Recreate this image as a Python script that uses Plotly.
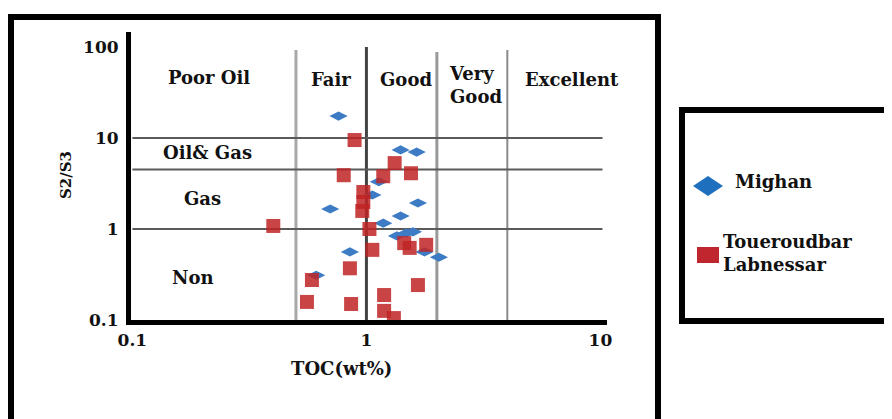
import plotly.graph_objects as go

# ---------------- data ----------------
series_names = ["Mighan", "Toueroudbar Labnessar"]

mighan_toc = [0.76, 1.40, 1.64, 1.13, 1.06, 1.66, 0.70, 1.40, 1.18, 1.35, 1.48, 1.58, 1.77, 2.04, 0.85, 0.61]
mighan_s2s3 = [17.4, 7.4, 7.0, 3.3, 2.36, 1.93, 1.66, 1.39, 1.16, 0.84, 0.90, 0.93, 0.56, 0.49, 0.56, 0.31]

toue_toc = [0.89, 1.32, 0.80, 1.18, 1.55, 0.97, 0.97, 0.96, 0.40, 1.03, 1.06, 1.45, 1.53, 1.80,
            0.85, 0.585, 0.557, 0.86, 1.19, 1.19, 1.31, 1.66]
toue_s2s3 = [9.5, 5.3, 3.9, 3.8, 4.1, 2.55, 1.98, 1.58, 1.08, 1.0, 0.59, 0.70, 0.62, 0.67,
             0.37, 0.275, 0.158, 0.150, 0.188, 0.126, 0.105, 0.242]

# reference (classification) lines
toc_limits = [0.5, 1, 2, 4]
toc_limit_tops = [93, 100, 88, 93]
s2s3_limits = [10, 4.5, 1]

x_ticks = [0.1, 1, 10]
x_ticklabels = ["0.1", "1", "10"]
y_ticks = [0.1, 1, 10, 100]
y_ticklabels = ["0.1", "1", "10", "100"]

region_labels = ["Poor Oil", "Fair", "Good", "Very<br>Good", "Excellent", "Oil& Gas", "Gas", "Non"]
# label anchors (log10 units of the axes)
region_lx = [-0.673, -0.152, 0.169, 0.468, 0.878, -0.677, -0.699, -0.741]
region_ly = [1.670, 1.648, 1.648, 1.582, 1.648, 0.846, 0.330, -0.538]

# ---------------- layout geometry ----------------
OFF = 8  # page body margin of the html page
W, H = 892 - OFF, 419 - OFF
L, R, T, B = 131, 607, 32, 320   # plot area in window pixels

def px(x):
    return (x - L) / (R - L)

def py(y):
    return (B - y) / (B - T)

FONT = "DejaVu Serif"
TXT = "#111111"
BLUE = "#3d7cc4"
RED = "rgba(192,36,36,0.85)"

fig = go.Figure()

# classification lines
line_styles = [("#a8a8a8", 3), ("#444444", 3), ("#999999", 3), ("#8a8a8a", 2)]
for xv, top, (col, w) in zip(toc_limits, toc_limit_tops, line_styles):
    fig.add_trace(go.Scatter(x=[xv, xv], y=[0.1, top], mode="lines",
                             line=dict(color=col, width=w), showlegend=False, hoverinfo="skip"))
for yv in s2s3_limits:
    fig.add_trace(go.Scatter(x=[0.1, 10.2], y=[yv, yv], mode="lines",
                             line=dict(color="#5a5a5a", width=2), showlegend=False, hoverinfo="skip"))

fig.add_trace(go.Scatter(x=mighan_toc, y=mighan_s2s3, mode="markers", name=series_names[0],
                         marker=dict(symbol="diamond-wide", size=13, color=BLUE), showlegend=False))
fig.add_trace(go.Scatter(x=toue_toc, y=toue_s2s3, mode="markers", name=series_names[1],
                         marker=dict(symbol="square", size=14, color=RED), showlegend=False))

annotations = []
for t, lx, ly in zip(region_labels, region_lx, region_ly):
    annotations.append(dict(x=lx, y=ly, xref="x", yref="y", text=t, showarrow=False,
                            xanchor="center", yanchor="middle",
                            font=dict(family=FONT, size=18, color=TXT, weight="bold"),
                            align="left"))

# axis titles
annotations.append(dict(x=px(341), y=py(368), xref="paper", yref="paper", text="TOC(wt%)",
                        xanchor="center", yanchor="middle",
                        showarrow=False, font=dict(family=FONT, size=18, color=TXT, weight="bold")))
annotations.append(dict(x=px(66), y=py(175), xref="paper", yref="paper", text="S2/S3", textangle=-90,
                        xanchor="center", yanchor="middle",
                        showarrow=False, font=dict(family=FONT, size=15, color=TXT, weight="bold")))

# manual legend text
leg_font = dict(family=FONT, size=18, color=TXT, weight="bold")
annotations.append(dict(x=px(733), y=py(182), xref="paper", yref="paper", text=series_names[0],
                        xanchor="left", yanchor="middle", showarrow=False, font=leg_font))
annotations.append(dict(x=px(721), y=py(253), xref="paper", yref="paper",
                        text="<br>".join(series_names[1].split(" ")), align="left",
                        xanchor="left", yanchor="middle", showarrow=False, font=leg_font))

shapes = []
# outer frame
shapes.append(dict(type="rect", xref="paper", yref="paper", x0=px(11), x1=px(658), y0=py(440), y1=py(17),
                   line=dict(color="black", width=6), layer="above"))
# legend box
shapes.append(dict(type="rect", xref="paper", yref="paper", x0=px(682), x1=px(910), y0=py(321), y1=py(110),
                   line=dict(color="black", width=6), layer="above"))
# legend symbols
cx, cy = 708, 186
shapes.append(dict(type="path", xref="paper", yref="paper",
                   path=f"M {px(cx-15)} {py(cy)} L {px(cx)} {py(cy-10)} L {px(cx+15)} {py(cy)} L {px(cx)} {py(cy+10)} Z",
                   fillcolor="#1f6fbf", line=dict(width=0)))
shapes.append(dict(type="rect", xref="paper", yref="paper", x0=px(697), x1=px(719), y0=py(263), y1=py(247),
                   fillcolor="#c0262d", line=dict(width=0)))

tickfont = dict(family=FONT, size=17, color=TXT, weight="bold")
fig.update_layout(
    width=W, height=H,
    margin=dict(l=L - OFF, r=892 - R, t=T - OFF, b=419 - B),
    paper_bgcolor="white", plot_bgcolor="white",
    showlegend=False,
    xaxis=dict(type="log", range=[-1.006, 1.028], tickvals=x_ticks, ticktext=x_ticklabels,
               showgrid=False, zeroline=False, showline=True, linecolor="black", linewidth=5,
               ticks="", tickfont=tickfont, ticklabelstandoff=1),
    yaxis=dict(type="log", range=[-1.0, 2.165], tickvals=y_ticks, ticktext=y_ticklabels,
               showgrid=False, zeroline=False, showline=True, linecolor="black", linewidth=5,
               ticks="", tickfont=tickfont, ticklabelstandoff=4),
    annotations=annotations,
    shapes=shapes,
)

fig.write_html("out.html")
